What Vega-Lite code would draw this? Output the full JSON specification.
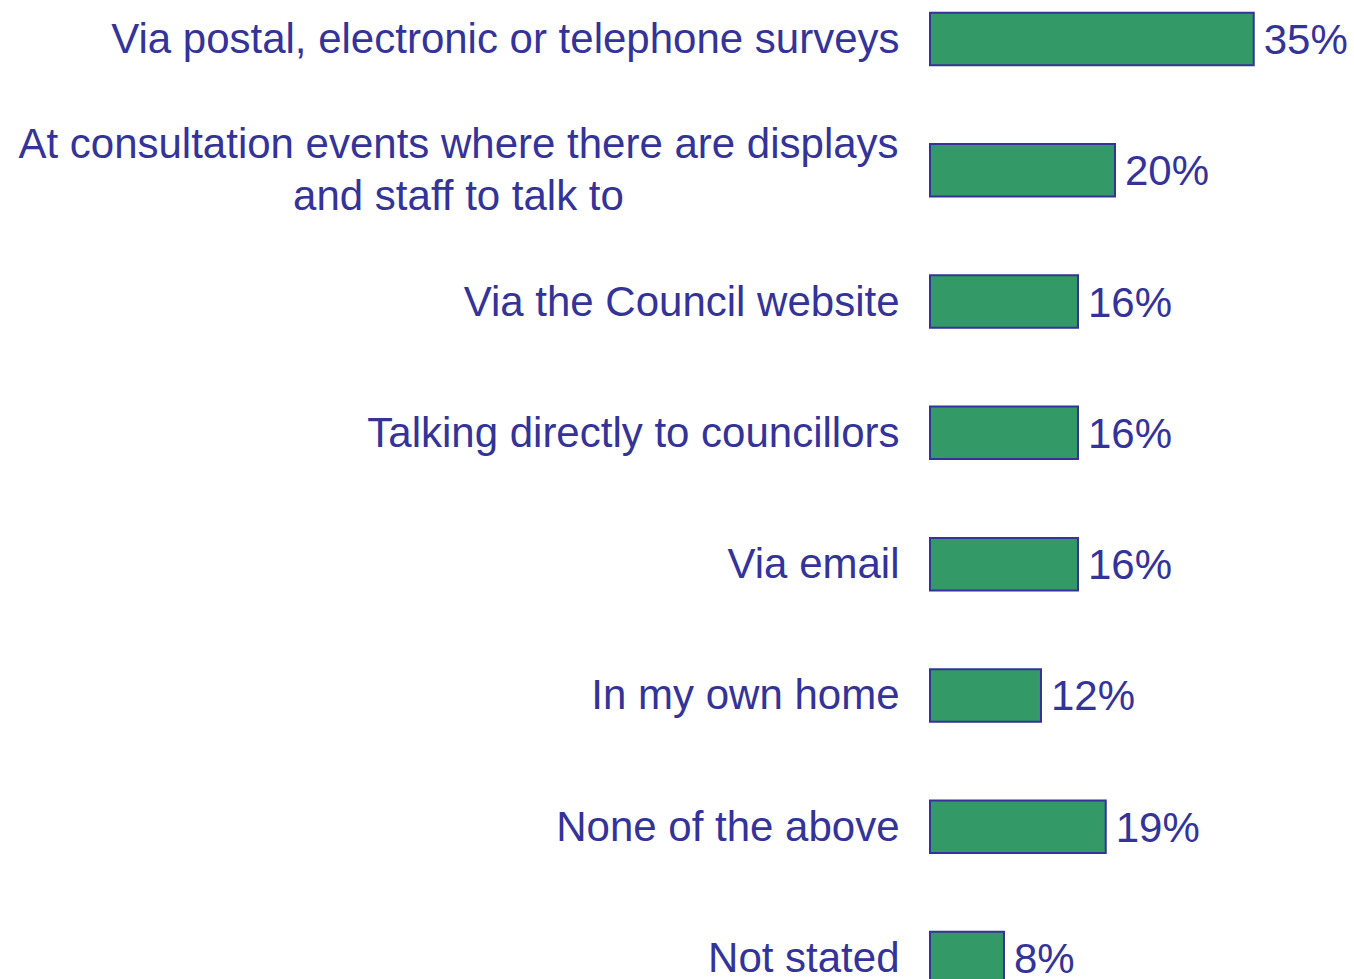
{
  "$schema": "https://vega.github.io/schema/vega-lite/v6.json",
  "autosize": {"type": "none"},
  "padding": {"left": 930, "top": 0, "right": 0, "bottom": 0},
  "width": 424,
  "height": 997,
  "background": "white",
  "config": {"view": {"stroke": null}, "font": "Liberation Sans"},
  "data": {
    "values": [
      {"option": "Via postal, electronic or telephone surveys", "pct": 0.35},
      {"option": "At consultation events where there are displays|and staff to talk to", "pct": 0.20},
      {"option": "Via the Council website", "pct": 0.16},
      {"option": "Talking directly to councillors", "pct": 0.16},
      {"option": "Via email", "pct": 0.16},
      {"option": "In my own home", "pct": 0.12},
      {"option": "None of the above", "pct": 0.19},
      {"option": "Not stated", "pct": 0.08}
    ]
  },
  "encoding": {
    "y": {
      "field": "option",
      "type": "nominal",
      "sort": null,
      "scale": {"paddingInner": 0.6, "paddingOuter": 0.0967},
      "axis": {
        "title": null,
        "domain": false,
        "ticks": false,
        "labelFont": "Liberation Sans",
        "labelFontSize": 42,
        "labelColor": "#333399",
        "labelLimit": 0,
        "labelLineHeight": 52,
        "labelBaseline": "middle",
        "labelExpr": "split(datum.label, '|')",
        "labelAlign": {"condition": {"test": "indexof(datum.value, '|') >= 0", "value": "center"}, "value": "right"},
        "labelPadding": {"condition": {"test": "indexof(datum.value, '|') >= 0", "value": 472}, "value": 31},
        "labelOffset": {"condition": {"test": "indexof(datum.value, '|') >= 0", "value": -25}, "value": 1}
      }
    },
    "x": {
      "field": "pct",
      "type": "quantitative",
      "scale": {"domain": [0, 0.4584], "nice": false},
      "axis": null
    }
  },
  "layer": [
    {
      "mark": {"type": "bar", "fill": "#339966", "stroke": "#333399", "strokeWidth": 2}
    },
    {
      "mark": {"type": "text", "align": "left", "baseline": "middle", "dx": 10, "dy": 2, "font": "Liberation Sans", "fontSize": 42, "fill": "#333399"},
      "encoding": {
        "text": {"field": "pct", "type": "quantitative", "format": ".0%"}
      }
    }
  ]
}
